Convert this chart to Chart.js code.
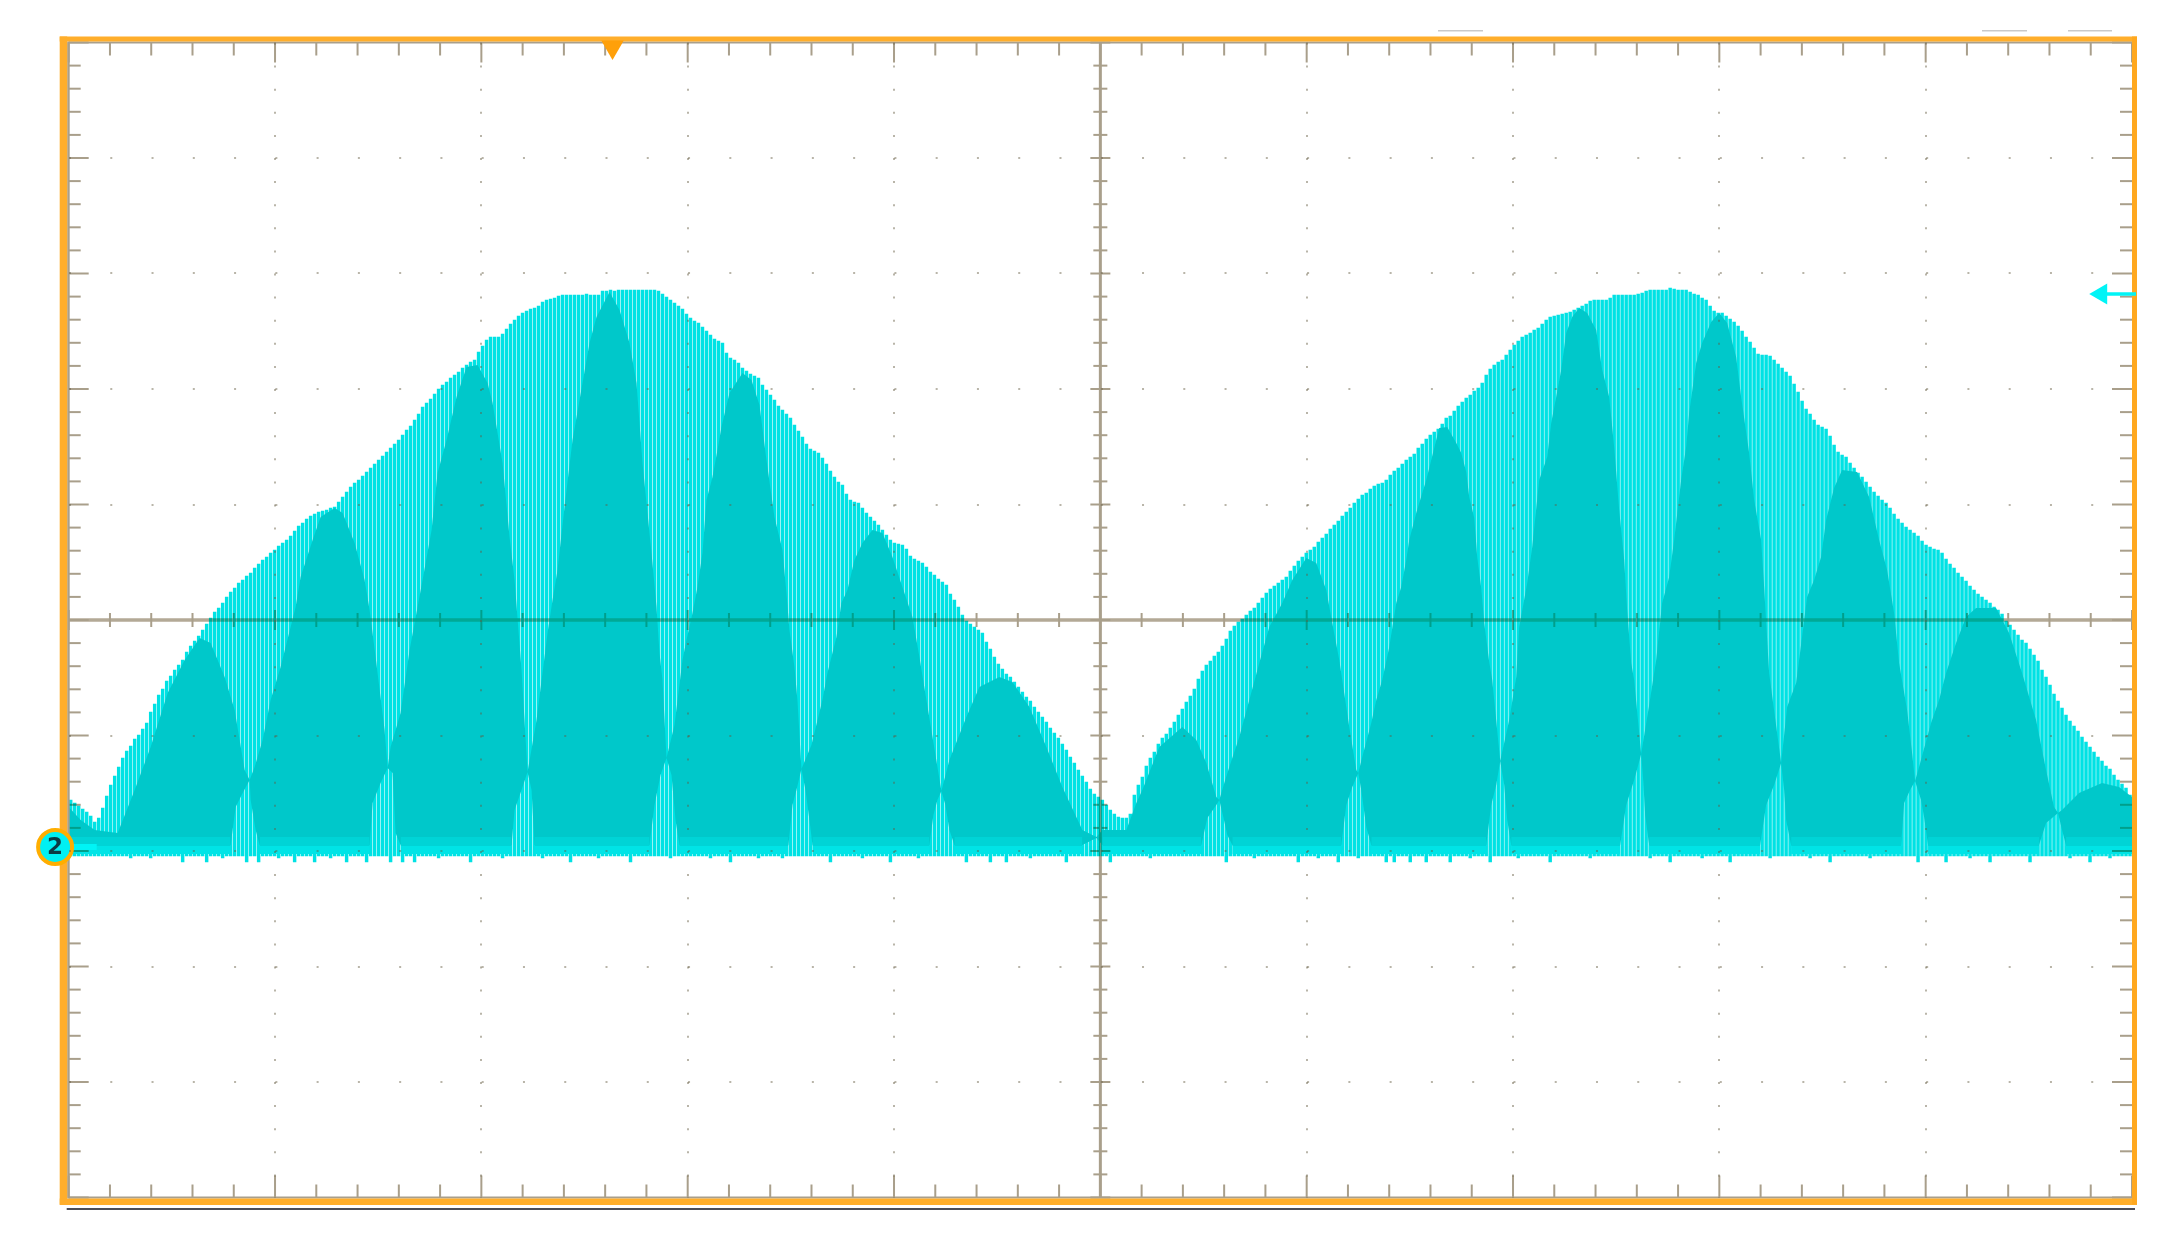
<!DOCTYPE html>
<html>
<head>
<meta charset="utf-8">
<title>Scope capture</title>
<script src="https://cdn.jsdelivr.net/npm/chart.js@4/dist/chart.umd.min.js"></script>
<style>
    html, body { margin: 0; padding: 0; background: #fff; }
    canvas { display: block; filter: blur(0.55px); }
</style>
</head>
<body>
<canvas id="scope" width="2169" height="1248"></canvas>
<script>
// time axis: 1 unit = one burst period, amplitude axis: 115.5 units = one division, 0 = ground marker
const xGridTicks = [51.6, 103.2, 154.8, 206.4, 309.6, 361.2, 412.8, 464.4];
const yGridTicks = [-235, -119.5, -4, 111.5, 342.5, 458, 573.5, 689];

// top of each burst
const envelope = [
    47,44,41,38,35,31,25,29,39,51,
    62,71,80,89,96,101,108,112,118,124,
    135,143,152,158,166,171,177,182,187,195,
    201,206,211,217,223,229,235,239,244,250,
    255,259,264,267,271,274,279,283,287,290,
    294,297,301,304,307,311,316,321,324,328,
    331,333,335,336,337,339,340,345,350,355,
    360,364,367,371,375,379,383,387,391,395,
    399,403,407,412,417,421,427,433,440,444,
    448,453,458,462,465,469,472,475,479,482,
    485,487,495,501,507,510,510,510,513,518,
    523,527,531,534,536,538,539,541,545,547,
    548,549,551,552,552,552,552,552,552,553,
    552,552,552,556,556,557,556,557,557,557,
    557,557,557,557,557,557,557,556,553,550,
    547,544,541,538,533,529,526,524,520,516,
    512,508,506,504,494,489,487,484,479,476,
    473,471,469,462,457,452,447,441,437,433,
    429,422,416,410,403,398,396,394,389,383,
    376,370,365,362,353,347,345,344,339,334,
    330,326,322,317,312,307,304,303,302,298,
    291,288,286,284,280,275,272,268,265,262,
    253,247,240,232,226,223,220,217,214,205,
    198,190,183,178,173,170,165,160,155,150,
    146,140,135,130,125,119,114,109,103,97,
    90,84,77,71,65,58,53,50,47,42,
    37,33,30,29,29,33,52,62,70,81,
    89,95,103,109,113,119,125,132,138,145,
    151,158,168,176,182,186,191,195,201,208,
    216,221,225,228,232,236,239,244,249,254,
    258,261,264,267,270,276,281,286,290,294,
    297,300,305,309,313,318,322,326,331,335,
    339,344,348,352,354,358,361,363,364,367,
    372,376,379,383,387,390,393,399,403,408,
    412,415,418,423,429,431,436,441,445,449,
    452,456,459,464,472,478,482,485,487,492,
    497,502,506,510,512,514,517,519,523,527,
    530,531,532,533,534,535,537,539,541,543,
    546,547,547,547,547,549,552,552,552,552,
    552,552,553,554,556,557,557,557,557,557,
    559,558,557,557,557,555,553,552,549,547,
    541,536,534,534,531,528,525,521,516,510,
    505,499,493,492,492,491,487,483,479,475,
    471,463,455,446,438,433,427,422,420,418,
    411,402,395,392,390,384,379,374,370,365,
    360,355,351,347,344,339,333,328,324,320,
    317,314,311,306,302,300,298,297,294,288,
    283,279,274,270,266,261,257,253,250,247,
    244,240,237,233,226,222,217,212,207,204,
    198,192,186,177,170,162,153,146,139,132,
    126,121,116,110,105,100,95,90,86,81,
    78,72,67,63,59,52
];

// bursts whose bottom dips below the usual floor
const deepDips = [28,34,44,47,56,61,69,74,80,83,86,100,125,140,165,190,205,224,230,234,249,260,289,307,317,329,331,335,339,345,355,370,400,415,440,462,469,480,490,505];
const smallDips = [15,20,38,52,65,92,108,118,132,150,160,172,178,198,212,240,270,296,312,322,350,362,380,395,408,425,435,450,475,500,510];

// outline of the dense lobes, upper edge
const lobeTopX = [0,3,6.5,12.25,16.5,20.5,24.75,29,32.75,35.5,39,41.5,44,45.25,46.5,48.5,50.5,53,56.75,58,61,63,66.5,68.5,71.5,74,75.25,76.75,79,79.75,80.5,83,85.25,88.5,90.75,92.25,94.5,97,99.5,102.25,104.75,106,108.5,110.25,111.5,113.25,114.75,117,119,119.75,121,122.25,124,126,128.5,130.25,132,135.25,137.75,140.25,142,143.5,145.75,147,147.75,148.5,149.5,151.5,153.5,154.5,156,157.25,158.5,159.5,161,162.25,163.25,165.25,168.5,170.75,172.75,174.5,176.5,178.5,179.5,180.25,181.5,182.25,183.25,185.75,188.5,189.75,192,193.25,194.75,196.5,198.5,201,203.5,206,208.5,211,212.75,214.5,218.25,220.25,224.5,227.75,232.75,236,240.25,244.5,248.5,253.5,257,258.5,264.5,267,268.5,272.75,278.5,282,284.5,287,287.75,289,290.25,292.75,295.25,297.75,300.25,303.5,306,309.5,312,314.5,316,317.75,320.25,322,322.5,323.5,325.75,327,328.5,330.25,332,333.25,334.5,335.25,337,339.5,342.75,344.75,347,348.25,349.5,350.25,351.5,352.25,353.25,354,355.25,356,358,360.25,362,362.75,364.75,366,367.75,369.75,370.75,372,373.25,374.5,376,377.75,379.75,382,383.5,385.25,386.5,387.75,389,389.75,390.75,391.5,393.25,395.25,397,398.5,400.25,401.5,403.25,404.5,405.25,407,408.5,410.75,412.75,414.75,417,418.25,420.25,421.5,423.25,424,425.25,428.25,429.75,432,432.75,434.75,436.5,438.25,439.5,441.5,443.5,447.25,450.25,452.75,454.75,456.5,457.75,459.75,461,461.75,462.75,465.75,467.75,469.5,472,474.5,477,482,485.25,488.5,492,494.5,496.5,497.5,498.5,502.75,508.5,512.75,516];
const lobeTopY = [40,27,17,14,57,100,154,187,209,204,170,137,77,67,80,107,147,180,240,270,307,330,339,334,304,267,237,190,117,79,100,134,197,267,317,374,407,450,480,482,464,444,384,310,267,177,75,127,190,214,247,277,340,407,464,504,530,555,537,504,464,384,294,240,194,167,89,122,187,207,234,260,294,347,370,397,420,454,474,467,442,387,330,297,254,217,180,147,78,102,147,174,210,244,257,287,304,317,314,290,260,230,190,147,56,87,130,160,170,165,140,100,60,17,10,17,17,44,57,100,120,107,84,50,47,64,80,110,147,184,220,244,267,289,284,257,224,187,120,77,74,90,124,147,167,200,244,260,287,307,334,367,419,420,404,394,375,350,329,290,259,224,185,167,86,127,170,220,264,300,367,390,424,450,477,514,530,539,534,517,477,450,400,337,287,237,184,167,93,142,187,244,270,307,367,400,434,484,504,525,534,524,490,450,394,347,307,260,174,84,140,164,187,250,267,290,327,359,377,375,350,307,277,234,184,137,94,66,80,124,147,174,204,230,239,239,214,174,127,77,40,34,37,54,64,60,50];

// lower edge of the lobes, rising to the neck between two of them
const lobeBaseX = [0,40.5,41.75,43.5,45.25,45.5,46.75,47.75,75.25,76,78,79.75,81,81.75,83,110.75,111.5,113.25,114.75,115.75,116.5,145.25,146.5,148,149.5,150.75,151.75,152.75,180,181,182,183.25,184.25,185.25,186,215.25,216.25,217.25,218.25,219.25,220.25,221.5,253.5,257,258.5,283.25,284.75,287,287.75,288.75,289.75,291,318.25,319.5,321,322.5,323.25,324.5,325.75,354.5,355.75,357,358,359,359.75,360.75,388,389.5,391.5,393.25,393.75,394.25,395.25,423,424.5,426.5,428.25,429,429.5,430.75,458.25,459,460.5,461.75,463.25,464,465,492.75,494.5,497.5,498.5,499.5,516];
const lobeBaseY = [2,2,40,54,67,47,17,2,2,44,64,79,74,14,2,2,37,57,75,57,2,2,42,72,89,72,27,2,2,42,57,78,57,27,2,2,32,47,56,42,17,2,2,9,2,2,29,42,47,30,12,2,2,42,60,74,57,20,2,2,42,62,86,62,27,2,2,42,67,93,67,32,2,2,42,62,84,57,27,2,2,44,57,66,47,30,2,2,24,34,17,2,2];

// solid band along the floor, broken where single bursts show through
const floorBandX = [0,40.5,47.75,75.25,83,110.75,116.5,145.25,152.75,180,186,215.25,221.5,253.5,258.5,283.25,291,318.25,325.75,354.5,360.75,388,395.25,423,430.75,458.25,465,492.75,499.5,516];

const triggerX = [136];
const triggerY = [800];
const refArrowX = [508.3, 517];
const refArrowY = [553, 553];
const groundX = [-3.4, 7];
const groundY = [0, 0];

const stripeData = envelope.map((top, i) => ({
    x: i + 0.5,
    y: [deepDips.includes(i) ? -15 : smallDips.includes(i) ? -11 : -9, top]
}));

const floorBand = (level) => {
    const pts = [];
    floorBandX.forEach((x, i) => {
        pts.push({ x: x, y: level });
        if (i % 2 === 1 && i < floorBandX.length - 1) pts.push({ x: x + 0.1, y: null });
    });
    return pts;
};
const zip = (xs, ys) => xs.map((x, i) => ({ x: x, y: ys[i] }));

const hiddenLine = { type: 'line', borderWidth: 0, pointRadius: 0, fill: false };

const graticule = {
    id: 'graticule',
    // the graticule sits over the trace but under the markers, so it hooks the soft floor dataset
    afterDatasetDraw(chart, args) {
        if (args.index !== 6) return;
        const { ctx, chartArea: a, scales: { x, y } } = chart;
        const cx = x.getPixelForValue(258);
        const cy = y.getPixelForValue(227);

        ctx.save();
        ctx.globalCompositeOperation = 'darken';
        ctx.fillStyle = '#b3a996';
        ctx.fillRect(a.left, cy - 1.75, a.width, 3.5);
        ctx.fillStyle = '#a99f8b';
        ctx.fillRect(cx - 1.5, a.top, 3, a.height);
        for (let k = 0; k <= 50; k++) {
            const px = x.getPixelForValue(k * 10.32);
            const py = y.getPixelForValue(-350.5 + k * 23.1);
            const major = k % 5 === 0;
            // along the edges
            ctx.fillRect(px - 1, a.top, 2, major ? 20 : 13);
            ctx.fillRect(px - 1, a.bottom - (major ? 22 : 13), 2, major ? 22 : 13);
            ctx.fillRect(a.left, py - 1, major ? 20 : 12, 2);
            ctx.fillRect(a.right - (major ? 20 : 12), py - 1, major ? 20 : 12, 2);
            // along the centre lines
            ctx.fillRect(px - 1, cy - (major ? 10 : 7), 2, major ? 20 : 14);
            ctx.fillRect(cx - (major ? 10 : 7), py - 1, major ? 20 : 14, 2);
        }
        ctx.restore();

        ctx.save();
        ctx.fillStyle = '#a99f8b';
        ctx.fillRect(a.left - 1.5, a.top - 1, 2.5, a.height + 2);
        ctx.fillRect(a.left, a.top - 1, a.width, 2);
        ctx.fillRect(a.left, a.bottom - 1, a.width, 2);
        ctx.fillStyle = '#ffae2b';
        ctx.fillRect(a.left - 9, a.top - 6, 7.5, a.height + 13);
        ctx.fillRect(a.left - 9, a.top - 6, a.width + 14, 5);
        ctx.fillRect(a.left - 9, a.bottom + 1, a.width + 14, 6.5);
        ctx.fillStyle = '#ffa81f';
        ctx.fillRect(a.right, a.top - 6, 5, a.height + 13);
        ctx.fillStyle = '#4b4d57';
        ctx.fillRect(a.left - 2, a.bottom + 10.5, a.width + 5, 2);
        ctx.fillStyle = '#c9c9c9';
        [[1438, 1483], [1982, 2027], [2068, 2112]].forEach(([s, e]) => ctx.fillRect(s, 30, e - s, 1.5));
        ctx.restore();
    },
    afterDraw(chart) {
        const { ctx, scales: { x, y } } = chart;
        ctx.save();
        ctx.fillStyle = '#0b3b44';
        ctx.font = 'bold 23px "DejaVu Sans"';
        ctx.textAlign = 'center';
        ctx.textBaseline = 'middle';
        ctx.fillText('2', x.getPixelForValue(groundX[0]), y.getPixelForValue(groundY[0]) + 1);
        ctx.restore();
    }
};

new Chart(document.getElementById('scope'), {
    type: 'bar',
    data: {
        datasets: [
            // 0 single bursts
            { type: 'bar', data: stripeData, backgroundColor: '#00e2e4', barThickness: 2.8, order: 10 },
            // 1-2 floor band
            { ...hiddenLine, data: floorBand(-7), order: 9 },
            { ...hiddenLine, data: floorBand(2), order: 8, fill: { target: 1 }, backgroundColor: '#00e4e6' },
            // 3-4 lobes
            { ...hiddenLine, data: zip(lobeTopX, lobeTopY), order: 6, fill: { target: 4 }, backgroundColor: '#00c8ca' },
            { ...hiddenLine, data: zip(lobeBaseX, lobeBaseY), order: 7 },
            // 5-6 softer strip where the lobes meet the floor band
            { ...hiddenLine, data: floorBand(1), order: 6 },
            { ...hiddenLine, data: floorBand(10), order: 5, fill: { target: 5 }, backgroundColor: '#00d4d6' },
            // 7 lead of the ground marker
            { type: 'line', data: zip(groundX, groundY), borderColor: '#00f4f6', borderWidth: 6, pointRadius: 0, clip: false, order: 4 },
            // 8 shaft of the reference arrow
            { type: 'line', data: zip(refArrowX, refArrowY), borderColor: '#00f4f6', borderWidth: 3.5, pointRadius: 0, clip: false, order: 3 },
            // 9 reference arrow head
            {
                type: 'line', data: [{ x: refArrowX[0], y: refArrowY[0] }], showLine: false, clip: false, order: 2,
                pointStyle: 'triangle', pointRotation: 270, pointRadius: 12, pointBorderWidth: 0, pointBackgroundColor: '#00f4f6'
            },
            // 10 trigger marker
            {
                type: 'line', data: zip(triggerX, triggerY), showLine: false, clip: false, order: 1,
                pointStyle: 'triangle', pointRotation: 180, pointRadius: 13, pointBorderWidth: 0, pointBackgroundColor: '#ffa00a'
            },
            // 11 ground marker
            {
                type: 'line', data: [{ x: groundX[0], y: groundY[0] }], showLine: false, clip: false, order: 0,
                pointStyle: 'circle', pointRadius: 17, pointBorderWidth: 4, pointBorderColor: '#ffae00', pointBackgroundColor: '#00f0f2'
            }
        ]
    },
    options: {
        responsive: false,
        animation: false,
        events: [],
        layout: { padding: { left: 68.7, right: 37, top: 42.5, bottom: 50.5 } },
        plugins: { legend: { display: false }, tooltip: { enabled: false } },
        scales: {
            x: {
                type: 'linear',
                min: 0,
                max: 516,
                offset: false,
                afterBuildTicks: (scale) => { scale.ticks = xGridTicks.map((v) => ({ value: v })); },
                ticks: { display: false },
                border: { display: false, dash: [2, 21.1] },
                grid: { offset: false, drawTicks: false, color: 'rgba(100,90,65,0.45)', lineWidth: 2, z: 1 }
            },
            y: {
                type: 'linear',
                min: -350.5,
                max: 804.5,
                afterBuildTicks: (scale) => { scale.ticks = yGridTicks.map((v) => ({ value: v })); },
                ticks: { display: false },
                border: { display: false, dash: [2, 39.27] },
                grid: { drawTicks: false, color: 'rgba(100,90,65,0.45)', lineWidth: 2, z: 1 }
            }
        }
    },
    plugins: [graticule]
});
</script>
</body>
</html>
